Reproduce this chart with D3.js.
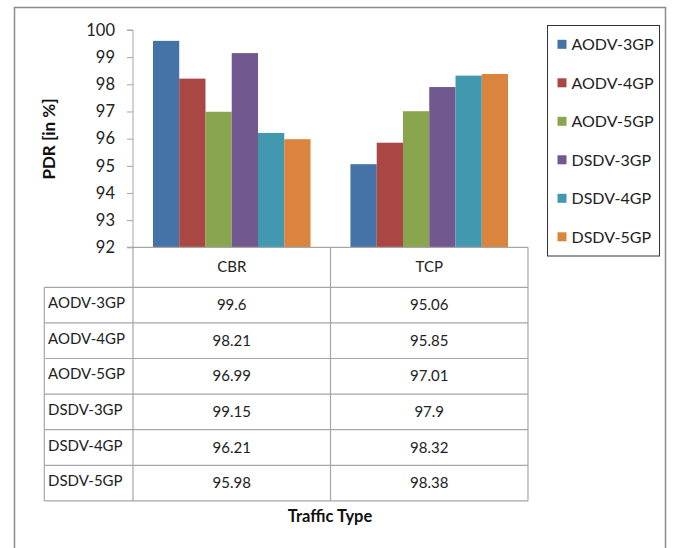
<!DOCTYPE html>
<html><head><meta charset="utf-8">
<script src="https://cdn.jsdelivr.net/npm/d3@7"></script>
<style>body{margin:0;background:#fff}svg{display:block}text{font-family:Lato,"Open Sans",sans-serif}</style>
</head><body>
<svg id="c" width="675" height="548"></svg>
<script>
const categories = ["CBR", "TCP"];
const seriesNames = ["AODV-3GP", "AODV-4GP", "AODV-5GP", "DSDV-3GP", "DSDV-4GP", "DSDV-5GP"];
const cbrValues = [99.6, 98.21, 96.99, 99.15, 96.21, 95.98];
const tcpValues = [95.06, 95.85, 97.01, 97.9, 98.32, 98.38];
const tableCbr = ["99.6", "98.21", "96.99", "99.15", "96.21", "95.98"];
const tableTcp = ["95.06", "95.85", "97.01", "97.9", "98.32", "98.38"];
const yTicks = [92, 93, 94, 95, 96, 97, 98, 99, 100];
const colors = ["#4572A7", "#AA4643", "#89A54E", "#71588F", "#4198AF", "#DB843D"];

const valuesByCat = {CBR: cbrValues, TCP: tcpValues};
const tableByCat = {CBR: tableCbr, TCP: tableTcp};

const svg = d3.select("#c");
const L = 133, R = 528, T = 30, B = 247.3;
const gridCol = "#a6a6a6";

// outer border
svg.append("path").attr("d", "M14.5,560 V7.5 H665.5 V560").attr("fill", "none").attr("stroke", "#8c8c8c").attr("stroke-width", 1.5);

const x = d3.scaleBand().domain(categories).range([L, R]);
const xs = d3.scaleBand().domain(seriesNames).range([0, x.bandwidth()]).paddingOuter(0.76).paddingInner(0);
const y = d3.scaleLinear().domain([92, 100]).range([B, T]);

// bars
categories.forEach(cat => {
  svg.append("g").selectAll("rect").data(valuesByCat[cat]).join("rect")
    .attr("x", (d, i) => x(cat) + xs(seriesNames[i]))
    .attr("width", xs.bandwidth())
    .attr("y", d => y(d))
    .attr("height", d => y(92) - y(d))
    .attr("fill", (d, i) => colors[i]);
});

// y axis
const ya = svg.append("g").attr("transform", `translate(${L},0)`)
  .call(d3.axisLeft(y).tickValues(yTicks).tickSize(6).tickPadding(12).tickFormat(d3.format("d")));
ya.select(".domain").attr("stroke", gridCol).attr("d", `M-6,${T}H0V${B}`);
ya.selectAll(".tick line").attr("stroke", gridCol);
ya.selectAll(".tick text").attr("font-size", 16.5).attr("fill", "#222").attr("font-family", "Lato");

svg.append("text").attr("transform", `translate(55,139) rotate(-90)`).attr("text-anchor", "middle")
  .attr("font-weight", "bold").attr("font-size", 17).attr("fill", "#111").text("PDR [in %]");

// data table
const rowH = 35.6, headTop = B, headBot = 287.3;
const tableL = 44.3;
const rowTop = i => headBot + i * rowH;
const tableBottom = rowTop(seriesNames.length);
const tg = svg.append("g").attr("stroke", gridCol).attr("stroke-width", 1.2);
tg.append("line").attr("x1", L - 6).attr("x2", R).attr("y1", headTop).attr("y2", headTop);
for (let i = 0; i <= seriesNames.length; i++) {
  tg.append("line").attr("x1", tableL).attr("x2", R).attr("y1", rowTop(i)).attr("y2", rowTop(i));
}
tg.append("line").attr("x1", tableL).attr("x2", tableL).attr("y1", headBot).attr("y2", tableBottom);
[L, x("TCP"), R].forEach(xx => tg.append("line").attr("x1", xx).attr("x2", xx).attr("y1", headTop).attr("y2", tableBottom));

categories.forEach(cat => {
  svg.append("text").attr("x", x(cat) + x.bandwidth() / 2).attr("y", (headTop + headBot) / 2 + 5)
    .attr("text-anchor", "middle").attr("font-size", 15).attr("fill", "#222").text(cat);
  tableByCat[cat].forEach((v, i) => {
    svg.append("text").attr("x", x(cat) + x.bandwidth() / 2).attr("y", rowTop(i) + rowH / 2 + 5)
      .attr("text-anchor", "middle").attr("font-size", 15).attr("fill", "#222").text(v);
  });
});
seriesNames.forEach((s, i) => {
  svg.append("text").attr("x", 48).attr("y", rowTop(i) + rowH / 2 + 3)
    .attr("font-size", 15).attr("fill", "#222").text(s);
});

svg.append("text").attr("x", 330).attr("y", 522).attr("text-anchor", "middle")
  .attr("font-weight", "bold").attr("font-size", 16.5).attr("fill", "#111").text("Traffic Type");

// legend
const lg = svg.append("g");
lg.append("rect").attr("x", 547.5).attr("y", 25.5).attr("width", 112).attr("height", 230.5)
  .attr("fill", "#fff").attr("stroke", "#333").attr("stroke-width", 1);
seriesNames.forEach((s, i) => {
  const cy = 44.3 + i * 38.5;
  lg.append("rect").attr("x", 557.5).attr("y", cy - 4.5).attr("width", 9).attr("height", 9).attr("fill", colors[i]);
  lg.append("text").attr("x", 571.5).attr("y", cy + 6).attr("font-size", 16).attr("fill", "#222").text(s);
});
</script>
</body></html>
